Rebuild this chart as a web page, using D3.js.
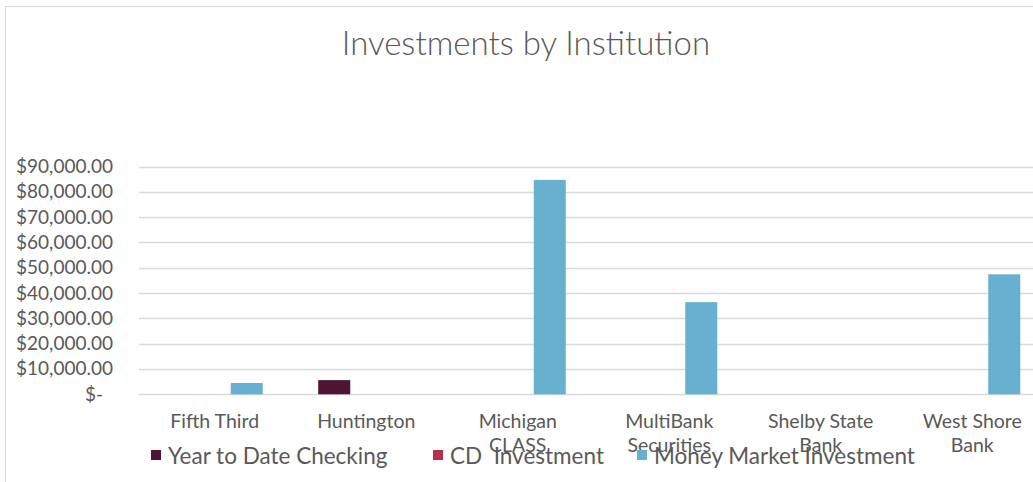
<!DOCTYPE html>
<html><head><meta charset="utf-8">
<script src="https://cdn.jsdelivr.net/npm/d3@7/dist/d3.min.js"></script>
<style>body{margin:0;background:#fff}svg{display:block}text{font-family:"Lato","Open Sans",sans-serif;fill:#595959}</style>
</head><body><svg id="c" width="1033" height="482"></svg>
<script>
const categories = [["Fifth Third"],["Huntington"],["Michigan","CLASS"],["MultiBank","Securities"],["Shelby State","Bank"],["West Shore","Bank"]];
const seriesNames = ["Year to Date Checking","CD  Investment","Money Market Investment"];
const seriesColors = ["#4e1434","#b5304b","#67b0cf"];
const ytdChecking = [0, 5600, 0, 0, 0, 0];
const cdInvestment = [0, 0, 0, 0, 0, 0];
const moneyMarket = [4450, 0, 84700, 36400, 0, 47400];
const yTicks = [0,10000,20000,30000,40000,50000,60000,70000,80000,90000];
const title = "Investments by Institution";

(function(){
const svg = d3.select("#c");
svg.append("rect").attr("x",5.5).attr("y",6.5).attr("width",1040).attr("height",490)
  .attr("fill","none").attr("stroke","#d9d9d9").attr("stroke-width",1);

const pL=139, pR=1048, pT=166.5, pB=394.3;
const x = d3.scaleBand().domain(d3.range(categories.length)).range([pL,pR]).paddingInner(0.366).paddingOuter(0.183);
const x1 = d3.scaleBand().domain(d3.range(3)).range([0,x.bandwidth()]);
const y = d3.scaleLinear().domain([0,90000]).range([pB,pT]);

svg.append("text").attr("x",526).attr("y",55).attr("text-anchor","middle")
  .style("font-size","33px").style("font-weight","300").text(title);

const g = svg.append("g");
g.selectAll("line.grid").data(yTicks).join("line")
  .attr("x1",pL).attr("x2",pR).attr("y1",d=>Math.round(y(d))+0.5).attr("y2",d=>Math.round(y(d))+0.5)
  .attr("stroke","#d9d9d9").attr("stroke-width",1.5);

const fmt = d => d===0 ? "$-" : "$" + d3.format(",.2f")(d);
g.selectAll("text.yl").data(yTicks).join("text")
  .attr("x",d=> d===0 ? 103 : 113).attr("y",d=>y(d)+6.5).attr("text-anchor","end")
  .style("font-size","19px").text(fmt);

const series = [ytdChecking, cdInvestment, moneyMarket];
series.forEach((vals,si)=>{
  svg.append("g").selectAll("rect").data(vals).join("rect")
    .attr("x",(d,i)=>x(i)+x1(si)).attr("width",x1.bandwidth())
    .attr("y",d=>y(d)).attr("height",d=>y(0)-y(d))
    .attr("fill",seriesColors[si]);
});

categories.forEach((lines,i)=>{
  const cx = x(i)+x.bandwidth()/2;
  const t = svg.append("text").attr("x",cx).attr("y",428)
    .attr("text-anchor","middle").style("font-size","19.5px");
  lines.forEach((l,j)=>t.append("tspan").attr("x",cx).attr("dy",j?24:0).text(l));
});

const legX = [151,433,637];
seriesNames.forEach((n,i)=>{
  svg.append("rect").attr("x",legX[i]).attr("y",450).attr("width",10).attr("height",10).attr("fill",seriesColors[i]);
  svg.append("text").attr("x",legX[i]+17).attr("y",464).style("font-size","22.5px").style("white-space","pre").text(n);
});
})();
</script></body></html>
